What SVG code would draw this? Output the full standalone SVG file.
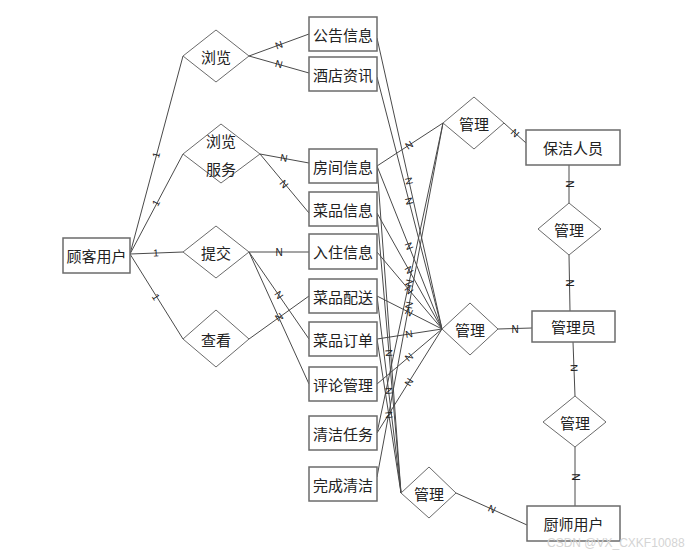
<svg xmlns="http://www.w3.org/2000/svg" width="687" height="557" viewBox="0 0 687 557">
<style>
.box{fill:#fff;stroke:#6b6b6b;stroke-width:1.5}
.dia{fill:#fff;stroke:#6b6b6b;stroke-width:1}
.t{font-family:"Noto Sans CJK SC","Liberation Serif",sans-serif;font-size:15px;fill:#222;text-anchor:middle;dominant-baseline:central}
.c line{stroke:#4a4a4a;stroke-width:1}
.l{font-family:"Liberation Sans",sans-serif;font-size:10px;fill:#222;text-anchor:middle;dominant-baseline:central}
.wm{font-family:"Liberation Sans",sans-serif;font-size:12px;fill:#d4d4d4}
</style>
<rect width="687" height="557" fill="#fff"/>
<g id="connectors" class="c">
<line x1="130" y1="254" x2="183" y2="56"/>
<line x1="130" y1="254" x2="183" y2="154"/>
<line x1="130" y1="254" x2="183" y2="252"/>
<line x1="130" y1="254" x2="183" y2="339"/>
<line x1="249" y1="56" x2="309" y2="34"/>
<line x1="249" y1="56" x2="309" y2="73"/>
<line x1="260" y1="154" x2="309" y2="163"/>
<line x1="260" y1="154" x2="309" y2="213"/>
<line x1="249" y1="252" x2="309" y2="252"/>
<line x1="249" y1="252" x2="309" y2="339"/>
<line x1="249" y1="252" x2="309" y2="384"/>
<line x1="249" y1="339" x2="309" y2="296"/>
<line x1="377" y1="38" x2="442" y2="329"/>
<line x1="377" y1="77" x2="442" y2="329"/>
<line x1="377" y1="166" x2="442" y2="329"/>
<line x1="377" y1="213" x2="442" y2="329"/>
<line x1="377" y1="252" x2="442" y2="329"/>
<line x1="377" y1="296" x2="442" y2="329"/>
<line x1="377" y1="339" x2="442" y2="329"/>
<line x1="377" y1="384" x2="442" y2="329"/>
<line x1="377" y1="433" x2="442" y2="329"/>
<line x1="377" y1="166" x2="443" y2="123"/>
<line x1="377" y1="433" x2="443" y2="123"/>
<line x1="377" y1="477" x2="443" y2="123"/>
<line x1="377" y1="166" x2="401" y2="493"/>
<line x1="377" y1="213" x2="401" y2="493"/>
<line x1="377" y1="296" x2="401" y2="493"/>
<line x1="377" y1="339" x2="401" y2="493"/>
<line x1="504" y1="123" x2="526" y2="143"/>
<line x1="569" y1="165" x2="569" y2="203"/>
<line x1="569" y1="255" x2="570" y2="311"/>
<line x1="498" y1="329" x2="532" y2="328"/>
<line x1="573" y1="342" x2="575" y2="396"/>
<line x1="575" y1="447" x2="575" y2="506"/>
<line x1="456" y1="493" x2="527" y2="525"/>
</g>
<g id="labels">
<text class="l" transform="translate(156,155) rotate(-75)">1</text>
<text class="l" transform="translate(156,203) rotate(-62)">1</text>
<text class="l" transform="translate(156,253) rotate(-2)">1</text>
<text class="l" transform="translate(156,297) rotate(58)">1</text>
<text class="l" transform="translate(279,45) rotate(-20)">N</text>
<text class="l" transform="translate(279,64) rotate(15)">N</text>
<text class="l" transform="translate(284,158) rotate(10)">N</text>
<text class="l" transform="translate(284,184) rotate(50)">N</text>
<text class="l" transform="translate(279,252)">N</text>
<text class="l" transform="translate(279,295) rotate(55)">N</text>
<text class="l" transform="translate(279,317) rotate(-36)">N</text>
<text class="l" transform="translate(409,181) rotate(77)">N</text>
<text class="l" transform="translate(409,201) rotate(75)">N</text>
<text class="l" transform="translate(409,246) rotate(68)">N</text>
<text class="l" transform="translate(409,270) rotate(61)">N</text>
<text class="l" transform="translate(409,290) rotate(50)">N</text>
<text class="l" transform="translate(409,312) rotate(27)">N</text>
<text class="l" transform="translate(409,334) rotate(-9)">N</text>
<text class="l" transform="translate(409,357) rotate(-40)">N</text>
<text class="l" transform="translate(409,382) rotate(-58)">N</text>
<text class="l" transform="translate(409,145) rotate(-33)">N</text>
<text class="l" transform="translate(409,283) rotate(-78)">N</text>
<text class="l" transform="translate(409,305) rotate(-79)">N</text>
<text class="l" transform="translate(389,353) rotate(85)">N</text>
<text class="l" transform="translate(389,391) rotate(83)">N</text>
<text class="l" transform="translate(389,415) rotate(81)">N</text>
<text class="l" transform="translate(515,133) rotate(42)">N</text>
<text class="l" transform="translate(569,184) rotate(90)">N</text>
<text class="l" transform="translate(569.5,283) rotate(90)">N</text>
<text class="l" transform="translate(515,329)">N</text>
<text class="l" transform="translate(574,368) rotate(88)">N</text>
<text class="l" transform="translate(575,477) rotate(90)">N</text>
<text class="l" transform="translate(492,509) rotate(24)">N</text>
</g>
<g id="customer"><rect class="box" x="63" y="238" width="67" height="35"/><text class="t" x="96.5" y="255.5">顾客用户</text></g>
<g id="r-browse1"><polygon class="dia" points="183,56 216,30 249,56 216,82"/><text class="t" x="216" y="56">浏览</text></g>
<g id="r-browse2"><polygon class="dia" points="183,154 221,124 260,154 221,183"/><text class="t" x="221" y="140">浏览</text><text class="t" x="221" y="168">服务</text></g>
<g id="r-submit"><polygon class="dia" points="183,252 216,226 249,252 216,278"/><text class="t" x="216" y="252">提交</text></g>
<g id="r-view"><polygon class="dia" points="183,339 216,310 249,339 216,367"/><text class="t" x="216" y="339">查看</text></g>
<g id="e-notice"><rect class="box" x="309" y="17" width="68" height="34"/><text class="t" x="343" y="34">公告信息</text></g>
<g id="e-news"><rect class="box" x="309" y="57" width="68" height="34"/><text class="t" x="343" y="74">酒店资讯</text></g>
<g id="e-room"><rect class="box" x="309" y="149" width="68" height="34"/><text class="t" x="343" y="166">房间信息</text></g>
<g id="e-dish"><rect class="box" x="309" y="192" width="68" height="34"/><text class="t" x="343" y="209">菜品信息</text></g>
<g id="e-checkin"><rect class="box" x="309" y="234" width="68" height="35"/><text class="t" x="343" y="251.5">入住信息</text></g>
<g id="e-delivery"><rect class="box" x="309" y="279" width="68" height="34"/><text class="t" x="343" y="296">菜品配送</text></g>
<g id="e-order"><rect class="box" x="309" y="322" width="68" height="34"/><text class="t" x="343" y="339">菜品订单</text></g>
<g id="e-comment"><rect class="box" x="309" y="367" width="68" height="34"/><text class="t" x="343" y="384">评论管理</text></g>
<g id="e-cleantask"><rect class="box" x="309" y="416" width="68" height="34"/><text class="t" x="343" y="433">清洁任务</text></g>
<g id="e-cleandone"><rect class="box" x="309" y="467" width="68" height="34"/><text class="t" x="343" y="484">完成清洁</text></g>
<g id="r-manage-top"><polygon class="dia" points="443,123 474,97 504,123 474,149"/><text class="t" x="474" y="123">管理</text></g>
<g id="r-manage-mid"><polygon class="dia" points="442,329 470,303 498,329 470,355"/><text class="t" x="470" y="329">管理</text></g>
<g id="r-manage-bottom"><polygon class="dia" points="401,493 429,467 456,493 429,518"/><text class="t" x="429" y="493">管理</text></g>
<g id="r-manage-r1"><polygon class="dia" points="538,229 569,203 601,229 569,255"/><text class="t" x="569" y="229">管理</text></g>
<g id="r-manage-r2"><polygon class="dia" points="543,422 575,396 606,422 575,447"/><text class="t" x="575" y="422">管理</text></g>
<g id="e-cleaner"><rect class="box" x="526" y="130" width="94" height="35"/><text class="t" x="573" y="147.5">保洁人员</text></g>
<g id="e-admin"><rect class="box" x="532" y="311" width="83" height="31"/><text class="t" x="573.5" y="326.5">管理员</text></g>
<g id="e-chef"><rect class="box" x="527" y="506" width="93" height="35"/><text class="t" x="573.5" y="523.5">厨师用户</text></g>
<text class="wm" x="547" y="547">CSDN @VX_CXKF10088</text>
</svg>
